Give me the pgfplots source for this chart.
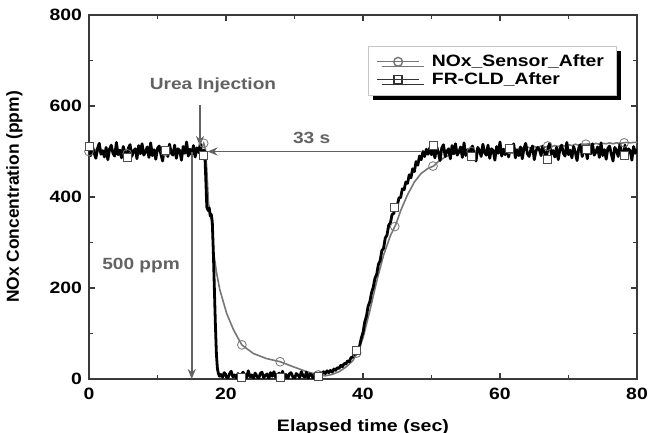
\documentclass[border=0pt]{standalone}
\usepackage{pgfplots}
\pgfplotsset{compat=1.18}
\usepackage{pgfplotstable}
\usepackage{fontspec}
\setmainfont{Liberation Sans}[FakeStretch=1.18]
\newfontfamily\plainsans{Liberation Sans}
\usetikzlibrary{shadows,arrows.meta}

\definecolor{sensorgray}{HTML}{767676}
\definecolor{annot}{HTML}{626262}
\definecolor{framecol}{HTML}{3A3A3A}

% FR-CLD analyser trace (ppm)
\pgfplotstableread{
x y
0 504
0.25 491
0.5 512
0.75 497
1 485
1.25 507
1.5 518
1.75 494
2 502
2.25 488
2.5 509
2.75 482
3 505
3.25 514
3.5 496
3.75 490
4 520
4.25 493
4.5 503
4.75 486
5 511
5.25 498
5.5 480
5.75 508
6 515
6.25 489
6.5 501
6.75 506
7 484
7.25 513
7.5 495
7.75 517
8 492
8.25 499
8.5 510
8.75 487
9 519
9.25 491
9.5 504
9.75 483
10 507
10.25 512
10.5 494
10.75 479
11 509
11.25 503
11.5 489
11.75 516
12 497
12.25 492
12.5 514
12.75 485
13 506
13.25 502
13.5 481
13.75 511
14 496
14.25 521
14.5 490
14.75 505
15 493
15.25 513
15.5 488
15.75 508
16 498
16.25 517
16.5 486
16.75 503
16.9 500
17.05 440
17.2 378
17.4 370
17.55 376
17.7 358
17.85 362
18.0 345
18.15 280
18.3 200
18.45 120
18.6 55
18.75 22
18.9 12
19.05 6
19.25 10
19.5 4
19.75 14
20 7
20.25 1
20.5 11
20.75 17
21 5
21.25 9
21.5 2
21.75 12
22 0
22.25 10
22.5 15
22.75 6
23 3
23.25 18
23.5 5
23.75 9
24 1
24.25 13
24.5 7
24.75 0
25 12
25.25 15
25.5 3
25.75 8
26 11
26.25 0
26.5 14
26.75 6
27 16
27.25 4
27.5 8
27.75 13
28 2
28.25 17
28.5 4
28.75 10
29 0
29.25 11
29.5 14
29.75 5
30 0
30.25 12
30.5 9
30.75 3
31 16
31.25 7
31.5 4
31.75 15
32 1
32.25 11
32.5 9
32.75 0
33 13
33.25 12
33.5 9
33.75 14
34 11
34.25 16
34.5 12
34.75 18
35 14
35.25 19
35.5 15
35.75 22
36 19
36.25 25
36.5 23
36.75 30
37 27
37.25 34
37.5 33
37.75 40
38 38
38.25 47
38.5 48
38.75 56
39 55
39.25 66
39.5 72
39.75 90
40 102
40.25 125
40.5 138
40.75 160
41 170
41.25 190
41.5 202
41.75 222
42 230
42.25 252
42.5 260
42.75 282
43 287
43.25 310
43.5 316
43.75 338
44 343
44.25 362
44.5 364
44.75 382
45 381
45.25 398
45.5 399
45.75 418
46 416
46.25 433
46.5 430
46.75 449
47 442
47.25 462
47.5 456
47.75 478
48 470
48.25 490
48.5 482
48.75 500
49 489
49.25 505
49.5 494
49.75 508
50 493
50.25 503
50.5 486
50.75 511
51 498
51.25 480
51.5 508
51.75 515
52 489
52.25 501
52.5 506
52.75 484
53 513
53.25 495
53.5 517
53.75 492
54 499
54.25 510
54.5 487
54.75 519
55 491
55.25 504
55.5 483
55.75 507
56 512
56.25 494
56.5 479
56.75 509
57 503
57.25 489
57.5 516
57.75 497
58 492
58.25 514
58.5 485
58.75 506
59 502
59.25 481
59.5 511
59.75 496
60 521
60.25 490
60.5 505
60.75 493
61 513
61.25 488
61.5 508
61.75 498
62 517
62.25 486
62.5 503
62.75 491
63 510
63.25 484
63.5 507
63.75 518
64 495
64.25 489
64.5 504
64.75 512
65 482
65.25 501
65.5 509
65.75 504
66 491
66.25 512
66.5 497
66.75 485
67 507
67.25 518
67.5 494
67.75 502
68 488
68.25 509
68.5 482
68.75 505
69 514
69.25 496
69.5 490
69.75 520
70 493
70.25 503
70.5 486
70.75 511
71 498
71.25 480
71.5 508
71.75 515
72 489
72.25 501
72.5 506
72.75 484
73 513
73.25 495
73.5 517
73.75 492
74 499
74.25 510
74.5 487
74.75 519
75 491
75.25 504
75.5 483
75.75 507
76 512
76.25 494
76.5 479
76.75 509
77 503
77.25 489
77.5 516
77.75 497
78 492
78.25 514
78.5 485
78.75 506
79 502
79.25 481
79.5 511
79.75 496
80 505
}\cldtable

% NOx sensor trace (ppm)
\pgfplotstableread{
x y
0 502
0.5 497
1 504
1.5 499
2 495
2.5 503
3 506
3.5 498
4 501
4.5 494
5 505
5.5 500
6 497
6.5 503
7 499
7.5 506
8 495
8.5 502
9 500
9.5 498
10 504
10.5 496
11 501
11.5 507
12 499
12.5 503
13 497
13.5 502
14 500
14.5 505
15 498
15.5 503
16 501
16.5 510
16.75 518
17.0 505
17.2 460
17.45 385
17.8 360
18.0 330
18.15 283
18.64 232
19.1 196
20.1 144
21.1 108
22.3 75
24.0 56
25.9 45
27.9 38
29.8 27
31.8 16
33.5 9
34.5 7
35.5 10
36.5 16
37.5 26
38.5 40
39.2 58
40 90
41 150
42 215
43 272
44 315
44.8 340
45.5 370
46.5 405
47.5 433
48.5 452
49.5 463
50.3 468
51 478
52 488
53 494
54 498
55 498
55.5 502
56 500
56.5 496
57 503
57.5 499
58 505
58.5 501
59 497
59.5 504
60 502
60.5 506
61 503
61.5 505
62 508
62.5 504
63 509
63.5 506
64 510
64.5 507
65 511
65.5 508
66 512
66.5 509
67 512
67.5 510
68 513
68.5 511
69 514
69.5 512
70 515
70.5 513
71 516
71.5 514
72 516
72.5 516
73 517
73.5 515
74 518
74.5 516
75 518
75.5 517
76 519
76.5 517
77 519
77.5 518
78 519
78.5 520
79 519
79.5 520
80 520
}\sensortable

% symbol positions (every 5.58 s)
\pgfplotstableread{
x y
0 500
5.58 495
11.16 500
16.74 518
22.32 75
27.9 38
33.48 9
39.06 57
44.64 335
50.22 468
55.8 500
61.38 505
66.96 512
72.54 516
78.12 519
}\sensormarks

\pgfplotstableread{
x y
0 512
5.58 487
11.16 503
16.74 492
22.32 4
27.9 4
33.48 5
39.06 62
44.64 378
50.22 514
55.8 490
61.38 507
66.96 483
72.54 505
78.12 492
}\cldmarks

\begin{document}
\begin{tikzpicture}
\begin{axis}[
  scale only axis,
  width=274pt, height=182pt,
  xmin=0, xmax=80, ymin=0, ymax=800,
  xtick={0,20,40,60,80},
  ytick={0,200,400,600,800},
  minor xtick={10,30,50,70},
  minor ytick={100,300,500,700},
  tick align=inside,
  major tick length=3pt,
  minor tick length=2pt,
  axis line style={framecol, line width=0.9pt},
  every tick/.style={framecol, line width=0.6pt},
  /pgf/number format/assume math mode=true,
  ticklabel style={font=\fontsize{8.2}{9}\selectfont\bfseries},
  xticklabel style={yshift=-1pt},
  xlabel={Elapsed time (sec)},
  ylabel={NOx Concentration (ppm)},
  xlabel style={font=\fontsize{8.3}{9}\selectfont\bfseries,
    at={(axis description cs:0.5,-0.133)}, anchor=center},
  ylabel style={font=\plainsans\fontsize{8.7}{9}\selectfont\bfseries,
    at={(axis description cs:-0.136,0.5)}, anchor=center},
  legend cell align=left,
  legend image code/.code={%
    \draw[mark repeat=2, mark phase=2, #1]
      plot coordinates {(0pt,0pt) (10.5pt,0pt) (21pt,0pt)};},
  legend style={
    at={(rel axis cs:0.509,0.915)}, anchor=north west,
    draw=gray!45, fill=white,
    font=\fontsize{8.2}{9}\selectfont\bfseries,
    inner xsep=4pt, inner ysep=2pt,
    row sep=-2.5pt,
    /tikz/every odd column/.append style={column sep=4pt},
    drop shadow={shadow xshift=2.4pt, shadow yshift=-2.4pt, fill=black, opacity=1},
  },
]
\addlegendimage{sensorgray, line width=0.7pt, mark=o, mark size=2.2pt, mark options={fill=white, solid}}
\addlegendentry{NOx\_Sensor\_After}
\addlegendimage{black!80, line width=0.8pt, mark=square, mark size=2pt, mark options={fill=white, solid}}
\addlegendentry{FR-CLD\_After}

\addplot[sensorgray, line width=0.8pt, forget plot] table[x=x, y=y] {\sensortable};
\addplot[only marks, mark=o, mark size=2.2pt, draw=sensorgray, fill=white, forget plot] table[x=x, y=y] {\sensormarks};
\addplot[black, line width=1.4pt, line join=round, forget plot] table[x=x, y=y] {\cldtable};
\addplot[only marks, mark=square*, mark size=2pt, draw=black!70, fill=white, forget plot] table[x=x, y=y] {\cldmarks};

% annotations
\draw[annot, line width=0.9pt, -{Stealth[length=5pt, width=4pt]}] (axis cs:16.2,603) -- (axis cs:16.2,512);
\node[annot, font=\fontsize{8.1}{9}\selectfont\bfseries] at (axis cs:18.1,646) {Urea Injection};
\draw[annot, line width=0.9pt, -{Stealth[length=5pt, width=4pt]}] (axis cs:48.4,500) -- (axis cs:17.3,500);
\node[annot, font=\fontsize{8.1}{9}\selectfont\bfseries] at (axis cs:32.5,530) {33 s};
\draw[annot, line width=0.9pt, -{Stealth[length=5pt, width=4pt]}] (axis cs:15,500) -- (axis cs:15,0);
\node[annot, font=\fontsize{8.1}{9}\selectfont\bfseries] at (axis cs:7.6,250) {500 ppm};
\end{axis}
\pgfresetboundingbox
\path ([xshift=-44.5pt,yshift=-27pt]current axis.south west) rectangle ([xshift=8pt,yshift=7.5pt]current axis.north east);
\end{tikzpicture}
\end{document}
